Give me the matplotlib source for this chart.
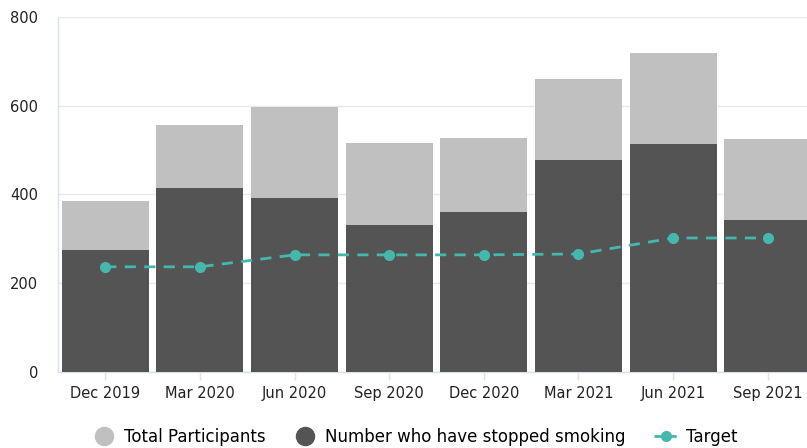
import matplotlib.pyplot as plt
from matplotlib.lines import Line2D
import numpy as np

# data
quarters = ['Dec 2019', 'Mar 2020', 'Jun 2020', 'Sep 2020',
            'Dec 2020', 'Mar 2021', 'Jun 2021', 'Sep 2021']
total_participants = [385, 557, 598, 517, 528, 660, 718, 525]
stopped_smoking = [274, 414, 392, 331, 360, 478, 514, 342]
target = [237, 237, 264, 264, 264, 266, 302, 302]

light_grey = '#c0c0c0'
dark_grey = '#545454'
teal = '#45b8ac'
axis_blue = '#d9e0ee'

plt.rcParams['font.family'] = 'DejaVu Sans'

fig = plt.figure(figsize=(8.07, 4.48), dpi=100)
# plot area runs slightly past the right edge, as in the reference
ax = fig.add_axes([58 / 807, 76 / 448, 757 / 807, 355 / 448])

x = np.arange(len(quarters))
ax.bar(x, total_participants, width=0.92, color=light_grey, zorder=2)
ax.bar(x, stopped_smoking, width=0.92, color=dark_grey, zorder=3)
ax.plot(x, target, color=teal, linestyle='--', linewidth=2, dashes=(4, 3),
        marker='o', markersize=7, zorder=4)

ax.set_xlim(-0.5, len(quarters) - 0.5)
ax.set_ylim(0, 800)
ax.set_yticks([0, 200, 400, 600, 800])
ax.set_xticks(x)
ax.set_xticklabels(quarters)

ax.grid(axis='y', color='#e6e9f0', linewidth=1, zorder=0)
for side in ['top', 'right']:
    ax.spines[side].set_visible(False)
for side in ['left', 'bottom']:
    ax.spines[side].set_color(axis_blue)
    ax.spines[side].set_linewidth(1)

ax.tick_params(axis='y', length=0, pad=14.4, labelsize=10.5, labelcolor='#222222')
ax.tick_params(axis='x', length=6, width=1, color=axis_blue, pad=4,
               labelsize=10.5, labelcolor='#222222')

handles = [
    Line2D([], [], linestyle='none', marker='o', markersize=13,
           color=light_grey),
    Line2D([], [], linestyle='none', marker='o', markersize=13,
           color=dark_grey),
    Line2D([], [], color=teal, linestyle='--', linewidth=2, dashes=(3, 2),
           marker='o', markersize=7),
]
labels = ['Total Participants', 'Number who have stopped smoking', 'Target']
fig.legend(handles, labels, loc='center', bbox_to_anchor=(0.514, 1 - 437 / 448),
           ncol=3, frameon=False, fontsize=12, handlelength=1.4,
           handletextpad=0.5, columnspacing=1.7)

fig.savefig('out.png', dpi=100)
